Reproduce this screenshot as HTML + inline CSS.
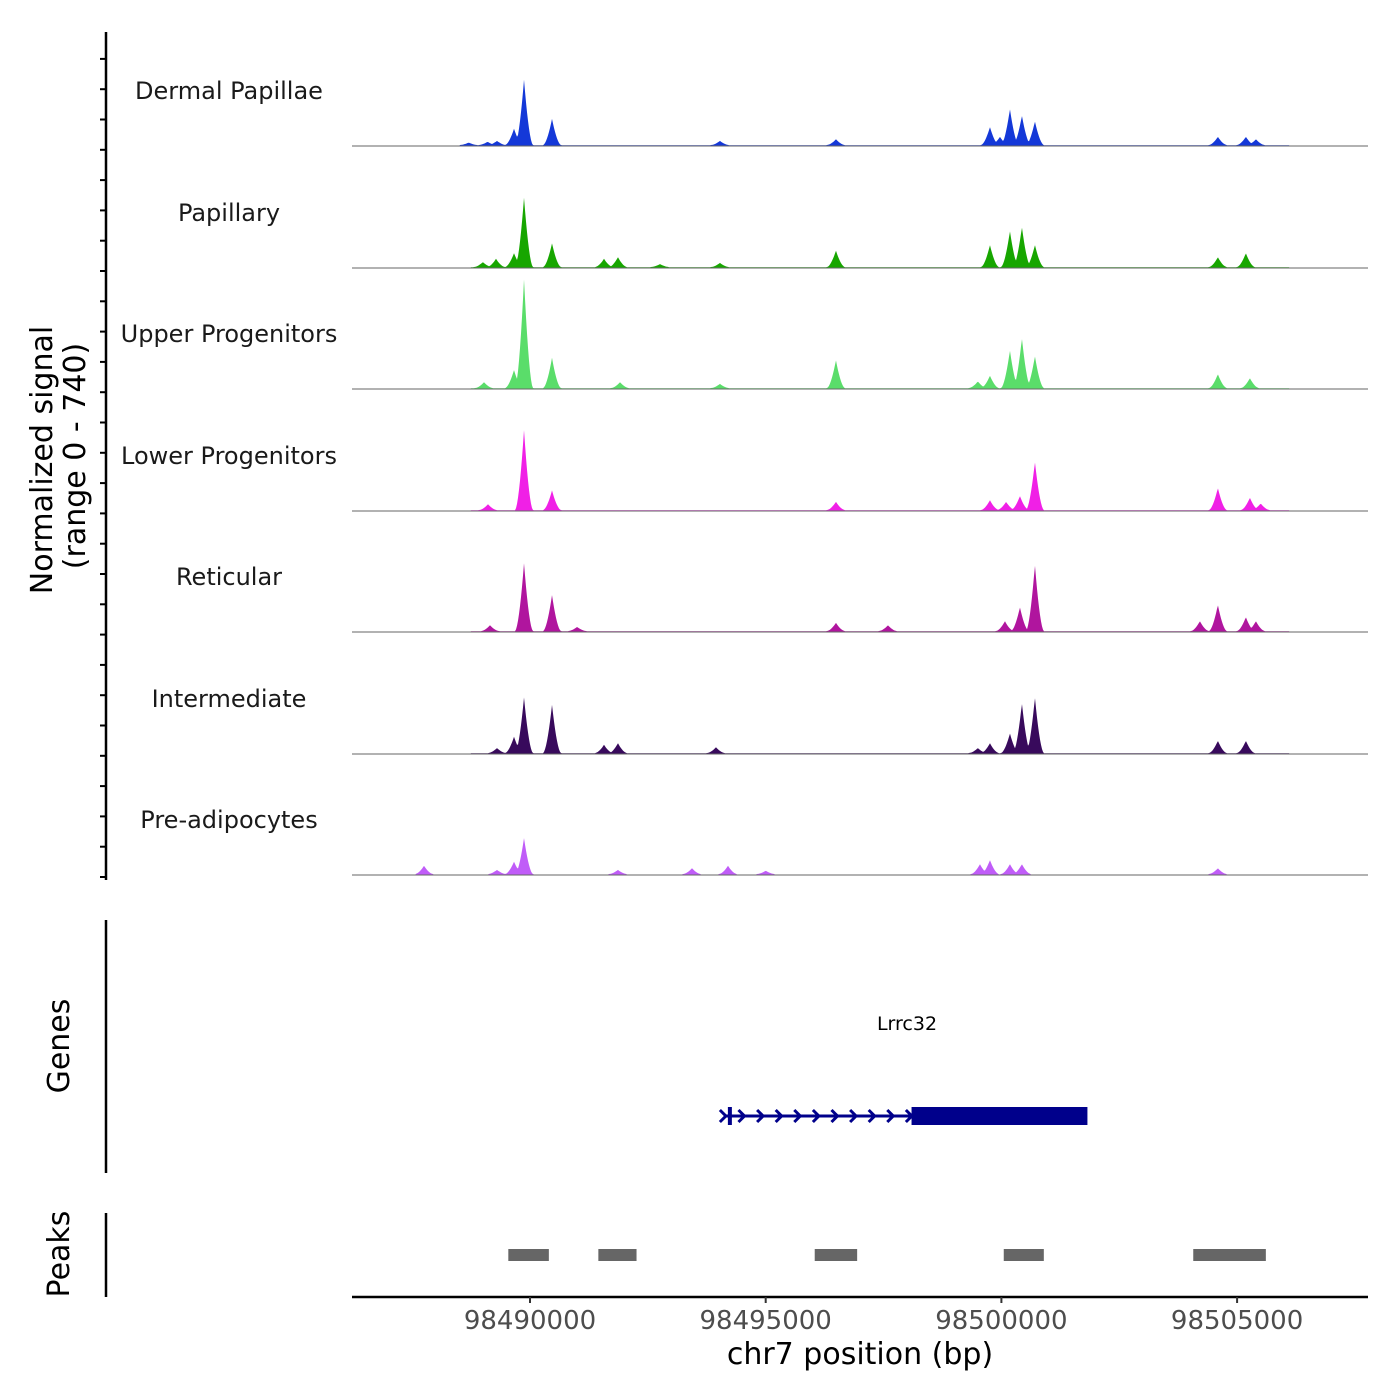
<!DOCTYPE html>
<html><head><meta charset="utf-8"><style>
body{margin:0;background:#fff}
svg{display:block;font-family:"DejaVu Sans","Liberation Sans",sans-serif}
</style></head><body>
<svg id="chart" width="1400" height="1400" viewBox="0 0 1400 1400" xmlns="http://www.w3.org/2000/svg">
<g id="tracks"></g>
<g id="axes"></g>
</svg>
<script>
const trackNames=["Dermal Papillae","Papillary","Upper Progenitors","Lower Progenitors","Reticular","Intermediate","Pre-adipocytes"];
const trackColors=["#1438d8","#17a600","#5add6a","#f020e6","#b0159e","#380a5c","#c05cf8"];
const dpPos=[98489873,98489661,98490467,98499757,98500181,98500435,98500711,98499969,98496490,98494030,98504592,98505186,98505399,98489300,98489100,98488700];
const dpVal=[400,100,160,110,220,180,145,50,35,25,50,50,35,25,20,15];
const paPos=[98489873,98489661,98489279,98490467,98491570,98491866,98496490,98499757,98500181,98500435,98500711,98504592,98505186,98494030,98492757,98489000];
const paVal=[425,85,50,145,50,60,100,135,220,245,135,60,85,25,18,30];
const upPos=[98489873,98489661,98490467,98491909,98496490,98499757,98500181,98500435,98500711,98504592,98505271,98494030,98489024,98499500];
const upVal=[665,110,185,35,170,75,230,305,195,85,60,25,35,40];
const loPos=[98489873,98490467,98496490,98499757,98500711,98500393,98504592,98505271,98489109,98500100,98505500];
const loVal=[490,120,50,60,295,85,135,75,35,50,40];
const rePos=[98489873,98490467,98496490,98497593,98500711,98500393,98500075,98504592,98504211,98505186,98505399,98489152,98491000];
const reVal=[415,220,50,35,405,145,60,160,60,85,60,35,25];
const inPos=[98489873,98489661,98490467,98491570,98491866,98493945,98499757,98500181,98500435,98500711,98504592,98505186,98489300,98499500];
const inVal=[340,100,295,50,60,35,60,120,305,340,75,75,30,30];
const prPos=[98489873,98489661,98487752,98493436,98494200,98499757,98499545,98500181,98500435,98504592,98489300,98491866,98495000];
const prVal=[220,75,50,35,50,85,60,60,60,35,25,25,20];
const floorVal=[5,4,4,4,5,4,3];
const trackPos=[dpPos,paPos,upPos,loPos,rePos,inPos,prPos];
const trackVal=[dpVal,paVal,upVal,loVal,reVal,inVal,prVal];
const xTicks=[98490000,98495000,98500000,98505000];
const peakStarts=[98489540,98491450,98496040,98500050,98504070];
const peakEnds=[98490400,98492260,98496940,98500900,98505610];
const geneStart=98494113, cdsStart=98498094, geneEnd=98501825;

const NS="http://www.w3.org/2000/svg";
const X0=98486224, X1=98507777, PX0=352, PX1=1368;
const xs=v=>PX0+(v-X0)/(X1-X0)*(PX1-PX0);
const baselines=[146,268,389,511,632,754,875];
const ys=v=>v/740*121;
function mk(t,a,p){const e=document.createElementNS(NS,t);for(const k in a)e.setAttribute(k,a[k]);(p||document.getElementById('chart')).appendChild(e);return e;}
const tg=document.getElementById('tracks'), ag=document.getElementById('axes');

trackNames.forEach((nm,i)=>{
  const b=baselines[i];
  const g=mk('g',{},tg);
  
  
  const pos=trackPos[i], val=trackVal[i];
  let pts=[];
  for(let px=398;px<=1325;px+=1){
    let h=(px>470&&px<1290)?ys(floorVal[i]):0;
    pos.forEach((p,j)=>{const dx=Math.abs(px-xs(p));const w=9;if(dx<w){h=Math.max(h,ys(val[j])*Math.pow(1-dx/w,1.7)+1);}});
    pts.push(px+','+(b-h).toFixed(1));
  }
  const area=mk('polygon',{points:'398,'+b+' '+pts.join(' ')+' 1325,'+b,fill:trackColors[i]},g);
  
  
  const bl=mk('line',{x1:352,x2:1368,y1:b,y2:b,stroke:'#666','stroke-width':1},g);
  
  
  const lb=mk('text',{x:229,y:b-47,'font-size':24,'text-anchor':'middle',fill:'#1a1a1a'},g);
  lb.textContent=nm;
  
  
});

let l=mk('line',{x1:106,x2:106,y1:32,y2:880,stroke:'#000','stroke-width':2.5},ag);

for(let k=0;k<29;k++){const y=877-k*30.3;if(y<50)break;const t=mk('line',{x1:100,x2:106,y1:y,y2:y,stroke:'#000','stroke-width':2},ag);}
let t1=mk('text',{x:0,y:0,'font-size':30,'text-anchor':'middle',transform:'translate(52,460) rotate(-90)'},ag);t1.textContent='Normalized signal';

let t2=mk('text',{x:0,y:0,'font-size':30,'text-anchor':'middle',transform:'translate(85,456) rotate(-90)'},ag);t2.textContent='(range 0 - 740)';

l=mk('line',{x1:106,x2:106,y1:920,y2:1173,stroke:'#000','stroke-width':2.5},ag);

let t3=mk('text',{x:0,y:0,'font-size':30,'text-anchor':'middle',transform:'translate(69,1046) rotate(-90)'},ag);t3.textContent='Genes';

l=mk('line',{x1:106,x2:106,y1:1213,y2:1297,stroke:'#000','stroke-width':2.5},ag);

let t4=mk('text',{x:0,y:0,'font-size':30,'text-anchor':'middle',transform:'translate(69,1254) rotate(-90)'},ag);t4.textContent='Peaks';


const gy=1116;
let gl=mk('line',{x1:xs(geneStart),x2:xs(cdsStart),y1:gy,y2:gy,stroke:'#00008b','stroke-width':3},ag);

let ts=mk('line',{x1:xs(geneStart)+6,x2:xs(geneStart)+6,y1:gy-9,y2:gy+9,stroke:'#00008b','stroke-width':4},ag);

for(let x=xs(geneStart);x<xs(cdsStart);x+=18.6){const a=mk('polyline',{points:(x-4)+','+(gy-6)+' '+(x+2)+','+gy+' '+(x-4)+','+(gy+6),fill:'none',stroke:'#00008b','stroke-width':3},ag);}
let gb=mk('rect',{x:xs(cdsStart),y:gy-9,width:xs(geneEnd)-xs(cdsStart),height:18,fill:'#00008b'},ag);

let gn=mk('text',{x:907,y:1030,'font-size':19,'text-anchor':'middle'},ag);gn.textContent='Lrrc32';


peakStarts.forEach((s,i)=>{const r=mk('rect',{x:xs(s),y:1249,width:xs(peakEnds[i])-xs(s),height:12,fill:'#666'},ag);});

l=mk('line',{x1:352,x2:1368,y1:1297,y2:1297,stroke:'#000','stroke-width':2.5},ag);

xTicks.forEach(v=>{const x=xs(v);const t=mk('line',{x1:x,x2:x,y1:1297,y2:1303,stroke:'#333','stroke-width':2},ag);
const tx=mk('text',{x:x,y:1329,'font-size':26,'text-anchor':'middle',fill:'#4d4d4d'},ag);tx.textContent=String(v);});
let xt=mk('text',{x:860,y:1364,'font-size':30,'text-anchor':'middle'},ag);xt.textContent='chr7 position (bp)';

</script>
</body></html>
